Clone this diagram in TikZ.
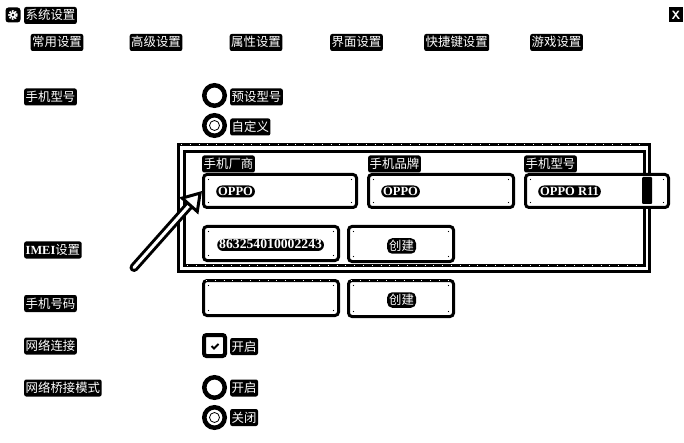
\documentclass[tikz,border=0pt]{standalone}
\usepackage{fontspec}
\setmainfont{Noto Sans CJK SC}
\newfontfamily\latinf{Liberation Serif}
\usetikzlibrary{arrows.meta}
\tikzset{
  lab/.style={fill=black,text=white,rounded corners=2pt,inner xsep=1.5pt,inner ysep=1pt,font=\fontsize{12.4}{13}\selectfont,anchor=west,text height=12pt,text depth=3pt},
  val/.style={fill=black,text=white,rounded corners=6pt,inner xsep=2pt,inner ysep=1pt,font=\fontsize{12.5}{14}\selectfont\latinf\bfseries,anchor=west,text height=9pt,text depth=1pt},
  numval/.style={val,font=\fontsize{13.7}{14}\selectfont\latinf\bfseries},
  btnlab/.style={val,font=\fontsize{12.4}{13}\selectfont,inner xsep=2pt,text height=11pt,text depth=2.5pt,rounded corners=5pt},
  fieldbox/.style={draw=black,fill=white,line width=3pt,rounded corners=3.5pt,anchor=north west,inner sep=0pt},
  radio/.style={circle,draw=black,fill=white,line width=4.5pt,minimum size=20.5pt,inner sep=0pt},
  radiodot/.style={circle,draw=black,fill=white,line width=0.8pt,minimum size=10pt,inner sep=0pt},
  framebox/.style={draw=black,line width=3pt,anchor=north west,inner sep=0pt},
  speck/.style={draw=white,line width=0.8pt,dash pattern=on 0.8pt off 8pt},
  pointer/.style={draw=black,line width=3pt,double=white,double distance=3pt,line cap=round,-{Triangle[open,fill=white,length=20pt,width=25pt,line width=3pt]}},
}
\begin{document}
\begin{tikzpicture}[x=1pt,y=-1pt]
\useasboundingbox (0,0) rectangle (684,443);
\fill[white] (0,0) rectangle (684,443);
% title bar
\node[fill=black,rounded corners=3pt,minimum size=15pt,inner sep=0pt] (icon) at (13,15) {};
\draw[white,line width=2pt,dash pattern=on 1.6pt off 1.1pt] (13,15) circle (3.8pt);
\fill[white] (13,15) circle (3pt);
\fill[black] (13,15) circle (1.4pt);
\node[lab] (title) at (24,15.5) {系统设置};
\node[fill=black,text=white,inner sep=0pt,minimum width=14pt,minimum height=15pt,font=\fontsize{12}{13}\selectfont\bfseries\sffamily] (close) at (676,15) {X};
% tabs
\node[lab] (t1) at (30.5,42.5) {常用设置};
\node[lab] (t2) at (129.5,42.5) {高级设置};
\node[lab] (t3) at (229.5,42.5) {属性设置};
\node[lab] (t4) at (330,42.5) {界面设置};
\node[lab] (t5) at (424,42.5) {快捷键设置};
\node[lab] (t6) at (530,42.5) {游戏设置};
% left labels
\node[lab] (l1) at (24,97) {手机型号};
\node[lab] (l2) at (24,250) {{\latinf\bfseries IMEI}设置};
\node[lab] (l3) at (24,303.5) {手机号码};
\node[lab] (l4) at (24,346) {网络连接};
\node[lab] (l5) at (24,388) {网络桥接模式};
% radios
\node[radio] (r1) at (214.5,95.5) {};
\node[lab] (r1t) at (230,97) {预设型号};
\node[radio] (r2) at (214.5,125.5) {};
\node[radiodot] (r2d) at (214.5,125.5) {};
\node[lab] (r2t) at (230,127) {自定义};
% frame
\node[framebox,minimum width=471pt,minimum height=127pt] (outer) at (177,143) {};
\node[framebox,minimum width=460pt,minimum height=114pt] (inner) at (183,150) {};
\draw[speck] (outer.north west)++(4,1.5) -- ++(466,0);
\draw[speck] (inner.south west)++(4,-1.5) -- ++(456,0);
% fields
\node[lab] (f1l) at (202,164) {手机厂商};
\node[lab] (f2l) at (368,164) {手机品牌};
\node[lab] (f3l) at (524,164) {手机型号};
\node[fieldbox,minimum width=153pt,minimum height=33pt] (f1) at (202,173) {};
\node[fieldbox,minimum width=145pt,minimum height=33pt] (f2) at (367,173) {};
\node[fieldbox,minimum width=143pt,minimum height=33pt] (f3) at (524,173) {};
\node[val] (f1v) at (216,191.5) {OPPO};
\node[val] (f2v) at (381,191.5) {OPPO};
\node[val] (f3v) at (538,191.5) {OPPO R11};
\fill[black,rounded corners=1pt] (642,177) rectangle (652,204);
\node[fieldbox,minimum width=135pt,minimum height=34pt] (imei) at (202,225) {};
\node[numval] (imeiv) at (217,245) {863254010002243};
\node[fieldbox,minimum width=105pt,minimum height=35pt] (b1) at (347,225) {};
\node[btnlab] (b1t) at (387,246) {创建};
\node[fieldbox,minimum width=135pt,minimum height=35pt] (phone) at (202,279) {};
\node[fieldbox,minimum width=105pt,minimum height=36pt] (b2) at (347,279) {};
\node[btnlab] (b2t) at (387,300) {创建};
\draw[speck] (phone.north west)++(4,1.5) -- ++(128,0);
\draw[speck] (b2.north west)++(4,1.5) -- ++(98,0);
% inner corner marks of the boxes
\foreach \n in {f1,f2,f3,imei,b1,phone,b2}{
  \fill[black] (\n.north west)++(6.5,6.5) circle (0.6pt);
  \fill[black] (\n.north east)++(-6.5,6.5) circle (0.6pt);
  \fill[black] (\n.south west)++(6.5,-6.5) circle (0.6pt);
  \fill[black] (\n.south east)++(-6.5,-6.5) circle (0.6pt);
}
% checkbox
\node[fieldbox,minimum size=21pt,line width=4pt,rounded corners=2.5pt] (cb) at (202,333) {};
\draw[black,line width=2pt] (cb.center)++(-3,0.5) -- ++(2.5,2.5) -- ++(4.5,-4.5);
\node[lab] (cbt) at (230,346.5) {开启};
% lower radios
\node[radio] (r3) at (214.5,387.5) {};
\node[lab] (r3t) at (230,388) {开启};
\node[radio] (r4) at (214.5,417.5) {};
\node[radiodot] (r4d) at (214.5,417.5) {};
\node[lab] (r4t) at (230,417.5) {关闭};
% arrow
\coordinate (tail) at (134,267.5);
\draw[pointer] (tail) -- (f1.west);
\end{tikzpicture}
\end{document}
